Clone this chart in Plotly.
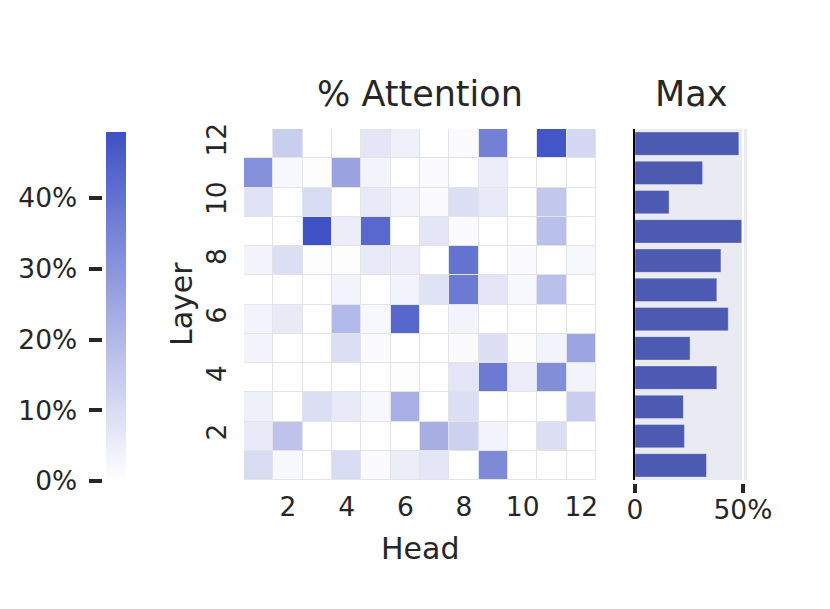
import plotly.graph_objects as go

W, H = 830, 609
PAGE_PAD = 8  # the page body adds an 8px margin

# per-head attention share (%), one row per layer, layer 1 first
layers = list(range(1, 13))
heads = list(range(1, 13))
attention = [
    [10, 2, 0, 10, 1, 5, 7, 0, 33.1, 0, 0, 0],          # layer 1
    [6, 17, 0, 0, 0, 0, 22.9, 13, 3, 0, 9, 0],          # layer 2
    [4, 0, 9, 6, 2, 22.4, 0, 9, 0, 0, 0, 14],           # layer 3
    [0, 0, 0, 0, 0, 0.5, 0, 7, 37.9, 5, 32, 3],         # layer 4
    [3, 0, 0, 9, 1, 0, 0, 1, 9, 0.5, 3, 25.5],          # layer 5
    [3, 6, 0, 20, 2, 43.2, 0, 3, 0, 0, 0, 0],           # layer 6
    [0, 0, 0, 3, 0, 3, 8, 37.9, 7, 2, 18, 0],           # layer 7
    [3, 9, 0.5, 0.5, 6, 5, 0, 39.8, 0, 1, 0, 2],        # layer 8
    [0, 0, 49.4, 5, 43, 0, 7, 1, 0, 0, 18, 0],          # layer 9
    [8, 0, 10, 0, 6, 3, 1, 9, 6, 0, 15.8, 0],           # layer 10
    [31.3, 2, 0.5, 26, 3, 0, 1, 0, 5, 0, 0, 0],         # layer 11
    [0, 14, 0, 0, 7, 4, 0, 1, 36, 0, 48.1, 11],         # layer 12
]
tick_steps = [2, 4, 6, 8, 10, 12]
cbar_ticks = [0, 10, 20, 30, 40]
cbar_labels = ["0%", "10%", "20%", "30%", "40%"]
bar_ticks = [0, 50]
bar_labels = ["0", "50%"]

row_max = [max(r) for r in attention]
zmax = max(row_max)

TXT = "#262626"
FONT = "DejaVu Sans"


def px_x(p):
    return (p - PAGE_PAD) / W


def px_y(p):
    return 1 - (p - PAGE_PAD) / H


fig = go.Figure()

fig.add_trace(go.Heatmap(
    z=attention, x=heads, y=layers,
    zmin=0, zmax=zmax,
    colorscale=[[0, "#ffffff"], [1, "#3F51C5"]],
    xgap=1, ygap=1,
    colorbar=dict(
        x=px_x(106), xanchor="left", y=px_y(481), yanchor="bottom",
        len=349, lenmode="pixels", thickness=19.5, thicknessmode="pixels",
        outlinewidth=0, showticklabels=False, ticks="", xpad=0, ypad=0,
    ),
    xaxis="x", yaxis="y",
))

fig.add_trace(go.Bar(
    x=row_max, y=layers, orientation="h",
    marker=dict(color="#4C5AB1", line=dict(color="rgba(255,255,255,0.35)", width=1)),
    xaxis="x2", yaxis="y2", showlegend=False,
))

# empty trace that carries the colour bar labels axis
fig.add_trace(go.Scatter(x=[None], y=[None], xaxis="x3", yaxis="y3",
                         showlegend=False, hoverinfo="skip"))

dom_y = [px_y(480), px_y(129)]
tick_font = dict(family=FONT, size=26.5, color=TXT)

fig.update_layout(
    width=W, height=H,
    margin=dict(l=0, r=0, t=0, b=0, autoexpand=False),
    paper_bgcolor="white", plot_bgcolor="white",
    font=dict(family=FONT, color=TXT),
    showlegend=False,
    bargap=0.2,
    xaxis=dict(domain=[px_x(244), px_x(596)], range=[0.5, 12.5], anchor="y",
               tickvals=tick_steps, ticks="", showgrid=False, zeroline=False,
               showline=False, tickfont=tick_font, ticklabelstandoff=8,
               automargin=False),
    yaxis=dict(domain=dom_y, range=[0.5, 12.5], anchor="x",
               tickvals=tick_steps, ticks="", tickangle=-90, showgrid=False,
               zeroline=False, showline=False, tickfont=tick_font,
               ticklabelstandoff=12, automargin=False),
    xaxis2=dict(domain=[px_x(635), px_x(747)], range=[0, zmax * 1.05],
                anchor="free", position=px_y(483),
                tickvals=bar_ticks, ticktext=bar_labels, ticks="outside",
                ticklen=9, tickwidth=4, tickcolor=TXT, showline=False,
                showgrid=True, gridcolor="white", gridwidth=2, zeroline=False,
                tickfont=tick_font, ticklabelstandoff=-6, automargin=False),
    yaxis2=dict(domain=dom_y, range=[0.5, 12.5], anchor="x2",
                showticklabels=False, ticks="", showgrid=False, zeroline=False,
                showline=True, linecolor="black", linewidth=1.5,
                automargin=False),
    xaxis3=dict(domain=[0.0, px_x(100)], visible=False, anchor="y3",
                automargin=False),
    yaxis3=dict(domain=[px_y(481), px_y(131.7)], range=[0, zmax],
                anchor="free", position=px_x(101.5), side="left",
                tickvals=cbar_ticks, ticktext=cbar_labels, ticks="outside",
                ticklen=13, tickwidth=4, tickcolor=TXT, showline=False,
                showgrid=False, zeroline=False, tickfont=tick_font,
                ticklabelstandoff=6, automargin=False),
    shapes=[
        dict(type="rect", xref="x domain", yref="y domain", x0=0, x1=1, y0=0, y1=1,
             fillcolor="#e4e4e8", line=dict(width=0), layer="below"),
        dict(type="rect", xref="x2 domain", yref="y2 domain", x0=0, x1=1, y0=0, y1=1,
             fillcolor="#EAEAF2", line=dict(width=0), layer="below"),
    ],
    annotations=[
        dict(text="% Attention", x=px_x(420), y=px_y(94), xref="paper", yref="paper",
             showarrow=False, xanchor="center", yanchor="middle",
             font=dict(family=FONT, size=35, color=TXT)),
        dict(text="Max", x=px_x(691), y=px_y(94), xref="paper", yref="paper",
             showarrow=False, xanchor="center", yanchor="middle",
             font=dict(family=FONT, size=35, color=TXT)),
        dict(text="Head", x=px_x(420), y=px_y(548), xref="paper", yref="paper",
             showarrow=False, xanchor="center", yanchor="middle",
             font=dict(family=FONT, size=30, color=TXT)),
        dict(text="Layer", x=px_x(181), y=px_y(304), xref="paper", yref="paper",
             showarrow=False, xanchor="center", yanchor="middle", textangle=-90,
             font=dict(family=FONT, size=30, color=TXT)),
    ],
)

fig.write_html("out.html")
